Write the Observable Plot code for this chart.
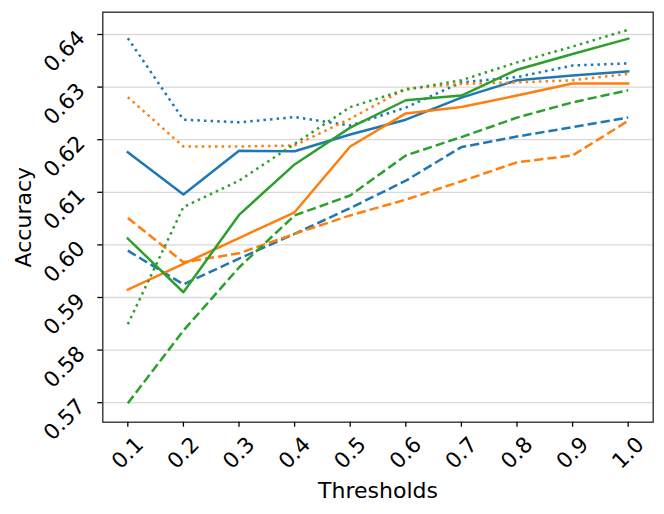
<!DOCTYPE html>
<html>
<head>
<meta charset="utf-8">
<script src="https://cdn.jsdelivr.net/npm/d3@7"></script>
<script src="https://cdn.jsdelivr.net/npm/@observablehq/plot@0.6"></script>
<style>
  html, body { margin: 0; padding: 0; background: #fff; }
</style>
</head>
<body>
<div id="chart"></div>
<script>
// ---- Data ----
const thresholds = [0.1, 0.2, 0.3, 0.4, 0.5, 0.6, 0.7, 0.8, 0.9, 1.0];

const blueSolid    = [0.6176, 0.6096, 0.6179, 0.6178, 0.6210, 0.6238, 0.6280, 0.6313, 0.6322, 0.6330];
const blueDashed   = [0.5989, 0.5925, 0.5974, 0.6021, 0.6070, 0.6122, 0.6186, 0.6206, 0.6224, 0.6242];
const blueDotted   = [0.6393, 0.6238, 0.6233, 0.6243, 0.6227, 0.6261, 0.6309, 0.6319, 0.6341, 0.6345];

const orangeSolid  = [0.5915, 0.5964, 0.6013, 0.6062, 0.6187, 0.6250, 0.6262, 0.6284, 0.6307, 0.6307];
const orangeDashed = [0.6051, 0.5967, 0.5984, 0.6021, 0.6056, 0.6086, 0.6121, 0.6157, 0.6170, 0.6236];
const orangeDotted = [0.6281, 0.6187, 0.6187, 0.6189, 0.6240, 0.6297, 0.6306, 0.6309, 0.6313, 0.6325];

const greenSolid   = [0.6012, 0.5910, 0.6057, 0.6153, 0.6223, 0.6275, 0.6284, 0.6333, 0.6363, 0.6392];
const greenDashed  = [0.5699, 0.5837, 0.5957, 0.6056, 0.6094, 0.6170, 0.6205, 0.6242, 0.6271, 0.6294];
const greenDotted  = [0.5849, 0.6072, 0.6122, 0.6192, 0.6262, 0.6295, 0.6313, 0.6347, 0.6377, 0.6409];

const models = ["model 1", "model 2", "model 3"];
const modelColors = ["#1f77b4", "#ff7f0e", "#2ca02c"];
const styles = ["solid", "dashed", "dotted"];

const yTicks = [0.57, 0.58, 0.59, 0.60, 0.61, 0.62, 0.63, 0.64];
const xTicks = thresholds;
const xLabel = "Thresholds";
const yLabel = "Accuracy";

// ---- Build long table ----
const seriesList = [
  {model: models[0], style: "solid",  values: blueSolid},
  {model: models[0], style: "dashed", values: blueDashed},
  {model: models[0], style: "dotted", values: blueDotted},
  {model: models[1], style: "solid",  values: orangeSolid},
  {model: models[1], style: "dashed", values: orangeDashed},
  {model: models[1], style: "dotted", values: orangeDotted},
  {model: models[2], style: "solid",  values: greenSolid},
  {model: models[2], style: "dashed", values: greenDashed},
  {model: models[2], style: "dotted", values: greenDotted}
];
const rows = seriesList.flatMap(s =>
  s.values.map((v, i) => ({t: thresholds[i], v, model: s.model, style: s.style, key: s.model + "-" + s.style}))
);

const lw = 2.5;
const dashFor = {solid: null, dashed: `${3.7 * lw},${1.6 * lw}`, dotted: `${1 * lw},${1.65 * lw}`};
const capFor = {solid: "square", dashed: "butt", dotted: "butt"};

const lineMarks = seriesList.map(s =>
  Plot.line(rows.filter(r => r.key === s.model + "-" + s.style), {
    x: "t", y: "v", stroke: "model",
    strokeWidth: lw,
    strokeDasharray: dashFor[s.style],
    strokeLinecap: capFor[s.style],
    strokeLinejoin: "round"
  })
);

const chart = Plot.plot({
  width: 664,
  height: 514,
  marginLeft: 102.3,
  marginRight: 11.3,
  marginTop: 11.7,
  marginBottom: 92.3,
  style: {fontFamily: "DejaVu Sans", fontSize: "21.5px", color: "#000", background: "#fff", overflow: "visible"},
  x: {domain: [0.055, 1.045]},
  y: {domain: [0.56629, 0.64424]},
  color: {type: "ordinal", domain: models, range: modelColors},
  marks: [
    Plot.gridY(yTicks, {stroke: "#d9d9d9", strokeOpacity: 1, strokeWidth: 1.3}),
    ...lineMarks,
    Plot.frame({stroke: "#262626", strokeWidth: 1.3}),
    // y tick marks
    Plot.axisY(yTicks, {tickSize: 5, tickFormat: () => "", label: null, strokeWidth: 1.3}),
    // y tick labels (rotated)
    Plot.axisY(yTicks, {
      tickSize: 0, tickRotate: -45, textAnchor: "middle", lineAnchor: "middle",
      tickPadding: 38.3, dy: 17, tickFormat: d3.format(".2f"), label: null
    }),
    // x tick marks
    Plot.axisX(xTicks, {tickSize: 5, tickFormat: () => "", label: null, strokeWidth: 1.3}),
    // x tick labels (rotated)
    Plot.axisX(xTicks, {
      tickSize: 0, tickRotate: -45, textAnchor: "middle", lineAnchor: "middle",
      tickPadding: 30.8, tickFormat: d3.format(".1f"), label: null
    }),
    Plot.text([xLabel], {text: d => d, frameAnchor: "bottom", dy: 68.6, fontSize: 22, lineAnchor: "middle"}),
    Plot.text([yLabel], {text: d => d, frameAnchor: "left", dx: -79.3, rotate: -90, fontSize: 22, lineAnchor: "middle", textAnchor: "middle"})
  ]
});

document.getElementById("chart").appendChild(chart);
</script>
</body>
</html>
